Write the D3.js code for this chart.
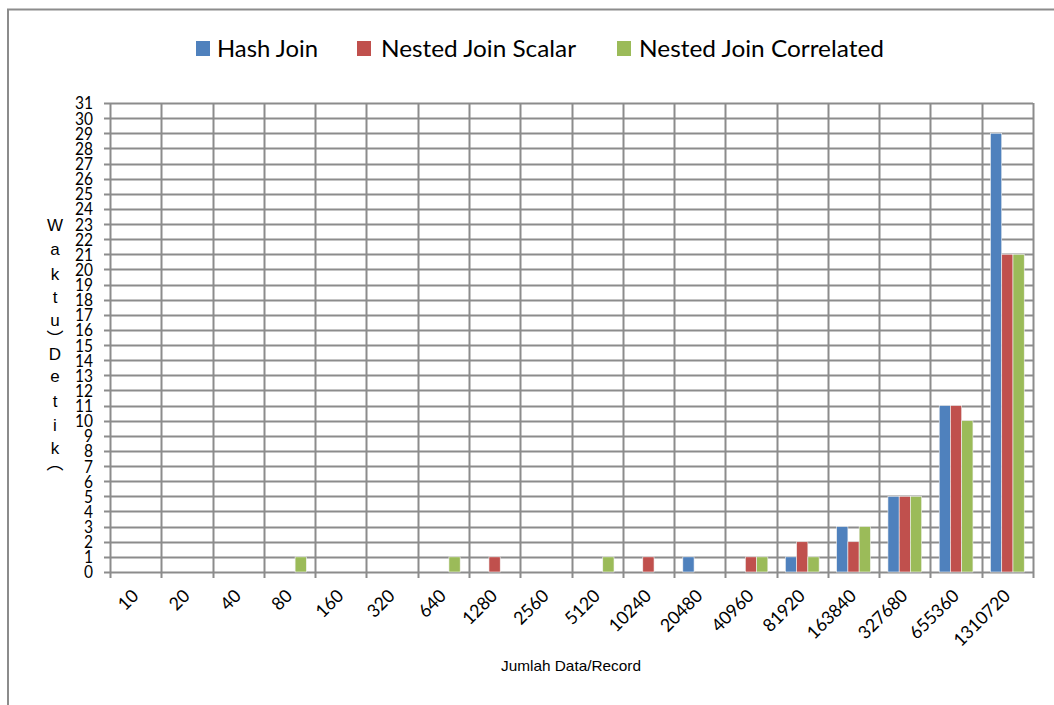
<!DOCTYPE html>
<html>
<head>
<meta charset="utf-8">
<script src="https://cdn.jsdelivr.net/npm/d3@7"></script>
<style>
  body { margin: 0; background: #fff; }
  svg text { fill: #000; }
</style>
</head>
<body>
<div id="chart"></div>
<script>
// data
const categories = ["10","20","40","80","160","320","640","1280","2560","5120","10240","20480","40960","81920","163840","327680","655360","1310720"];
const seriesNames = ["Hash Join", "Nested Join Scalar", "Nested Join Correlated"];
const hashJoin = [0,0,0,0,0,0,0,0,0,0,0,1,0,1,3,5,11,29];
const nestedScalar = [0,0,0,0,0,0,0,1,0,0,1,0,1,2,2,5,11,21];
const nestedCorrelated = [0,0,0,1,0,0,1,0,0,1,0,0,1,1,3,5,10,21];
const colors = ["#4F81BD", "#C0504D", "#9BBB59"];
const yTicks = d3.range(0, 32);

const W = 1054, H = 705;
const plot = { left: 110, right: 1033, top: 103, bottom: 572 };
const tickFont = "Lato, 'Open Sans', sans-serif";

const svg = d3.select("#chart").append("svg")
  .attr("width", W)
  .attr("height", H);

// outer frame (only top + left visible)
svg.append("path")
  .attr("d", `M8,${H} L8,9.5 L${W},9.5`)
  .attr("fill", "none")
  .attr("stroke", "#8c8c8c")
  .attr("stroke-width", 2);

const x = d3.scaleBand().domain(categories).range([plot.left, plot.right]);
const x1 = d3.scaleBand().domain(seriesNames).range([0, x.bandwidth()]).paddingInner(0).paddingOuter(0.78);
const y = d3.scaleLinear().domain([0, 31]).range([plot.bottom, plot.top]);

const g = svg.append("g");

// horizontal gridlines
g.selectAll(".hgrid")
  .data(yTicks)
  .enter().append("line")
  .attr("x1", plot.left - 6)
  .attr("x2", plot.right)
  .attr("y1", d => Math.round(y(d)) + 0.5)
  .attr("y2", d => Math.round(y(d)) + 0.5)
  .attr("stroke", "#8c8c8c")
  .attr("stroke-width", 2);

// vertical gridlines at category boundaries
const bounds = categories.map(c => x(c)).concat([plot.right]);
g.selectAll(".vgrid")
  .data(bounds)
  .enter().append("line")
  .attr("x1", d => Math.round(d) + 0.5)
  .attr("x2", d => Math.round(d) + 0.5)
  .attr("y1", plot.top)
  .attr("y2", plot.bottom + 6)
  .attr("stroke", "#8c8c8c")
  .attr("stroke-width", 2);

// bars
const rows = categories.map((c, i) => ({
  cat: c,
  vals: [hashJoin[i], nestedScalar[i], nestedCorrelated[i]]
}));

const groups = g.selectAll(".grp")
  .data(rows)
  .enter().append("g")
  .attr("transform", d => `translate(${x(d.cat)},0)`);

groups.selectAll("rect")
  .data(d => d.vals.map((v, k) => ({ v, k })))
  .enter().append("rect")
  .filter(d => d.v > 0)
  .attr("x", d => x1(seriesNames[d.k]))
  .attr("width", x1.bandwidth())
  .attr("y", d => y(d.v))
  .attr("height", d => y(0) - y(d.v))
  .attr("fill", d => colors[d.k])
  .attr("stroke", "#f4f4f4")
  .attr("stroke-width", 0.6);

// y tick labels (narrow digits, like Calibri)
g.selectAll(".ylab")
  .data(yTicks)
  .enter().append("text")
  .attr("x", 93)
  .attr("y", d => y(d))
  .attr("dy", "0.36em")
  .attr("text-anchor", "end")
  .attr("textLength", d => String(d).length * 9)
  .attr("lengthAdjust", "spacingAndGlyphs")
  .style("font-family", tickFont)
  .style("font-size", "18px")
  .text(d => d);

// x tick labels, rotated
g.selectAll(".xlab")
  .data(categories)
  .enter().append("text")
  .attr("transform", d => `translate(${x(d) + x.bandwidth() / 2 + 4},${plot.bottom + 25}) rotate(-45)`)
  .attr("text-anchor", "end")
  .attr("textLength", d => d.length * 10.2)
  .attr("lengthAdjust", "spacingAndGlyphs")
  .style("font-family", tickFont)
  .style("font-size", "18px")
  .text(d => d);

// y axis title, stacked letters
const yTitle = [
  { ch: "W", y: 225 }, { ch: "a", y: 249 }, { ch: "k", y: 274 }, { ch: "t", y: 297 },
  { ch: "u", y: 320 }, { ch: "︶", y: 339 }, { ch: "D", y: 354 }, { ch: "e", y: 376 },
  { ch: "t", y: 401 }, { ch: "i", y: 425 }, { ch: "k", y: 448 }, { ch: "︵", y: 463 }
];
svg.selectAll(".ytitle")
  .data(yTitle)
  .enter().append("text")
  .attr("x", 55)
  .attr("y", d => d.y)
  .attr("dy", "0.36em")
  .attr("text-anchor", "middle")
  .style("font-family", "'Liberation Sans', Arial, 'Noto Sans CJK SC', sans-serif")
  .style("font-size", "17px")
  .text(d => d.ch);

// x axis title
svg.append("text")
  .attr("x", 571)
  .attr("y", 671)
  .attr("text-anchor", "middle")
  .attr("textLength", 140)
  .attr("lengthAdjust", "spacingAndGlyphs")
  .style("font-family", "'Liberation Sans', Arial, sans-serif")
  .style("font-size", "15px")
  .text("Jumlah Data/Record");

// legend
const legendItems = [
  { name: seriesNames[0], sx: 196, tx: 217, tw: 101 },
  { name: seriesNames[1], sx: 357, tx: 381, tw: 195 },
  { name: seriesNames[2], sx: 617, tx: 639, tw: 245 }
];
const leg = svg.selectAll(".leg")
  .data(legendItems)
  .enter().append("g");
leg.append("rect")
  .attr("x", d => d.sx)
  .attr("y", 41)
  .attr("width", 14)
  .attr("height", 15)
  .attr("fill", (d, i) => colors[i]);
leg.append("text")
  .attr("x", d => d.tx)
  .attr("y", 57)
  .attr("textLength", d => d.tw)
  .attr("lengthAdjust", "spacingAndGlyphs")
  .style("font-family", tickFont)
  .style("font-size", "23px")
  .text(d => d.name);
</script>
</body>
</html>
